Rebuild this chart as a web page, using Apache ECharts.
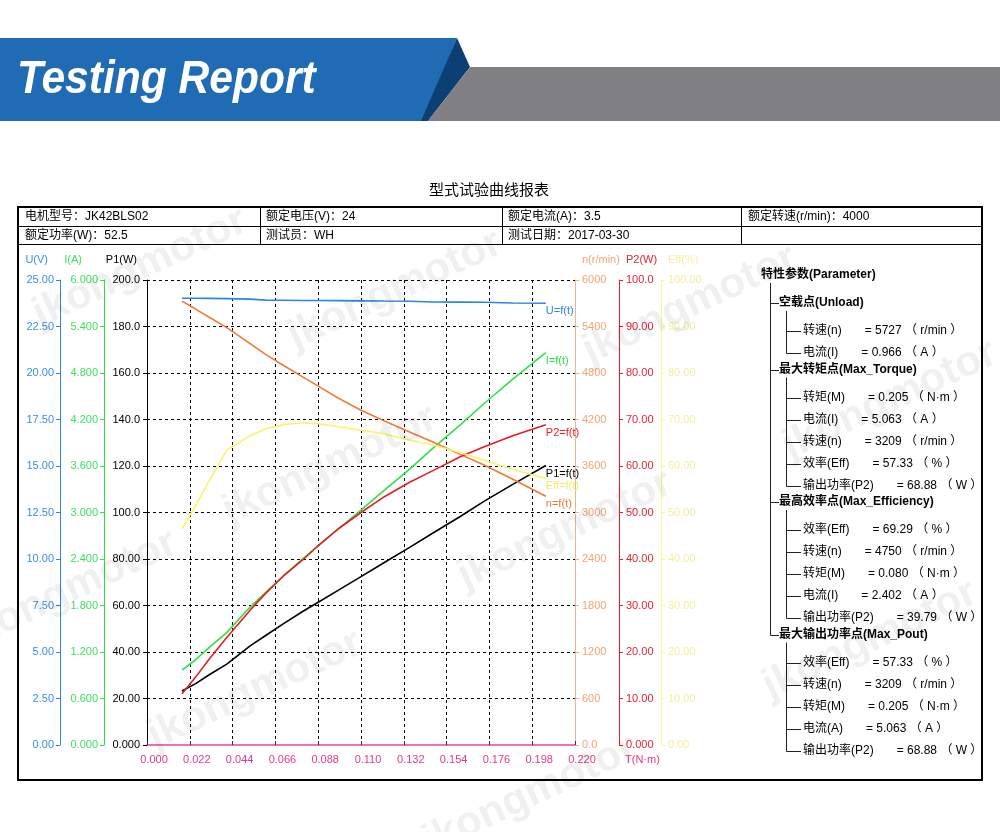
<!DOCTYPE html>
<html><head><meta charset="utf-8">
<script src="https://cdn.jsdelivr.net/npm/echarts@6/dist/echarts.min.js"></script>
<style>html,body{margin:0;padding:0;background:#fff}#c{width:1000px;height:832px}</style>
</head><body><div id="c"></div><script>
// ---------- data ----------
const T   = [0.018,0.025,0.032,0.041,0.053,0.061,0.070,0.080,0.088,0.098,0.110,0.122,0.135,0.147,0.161,0.173,0.188,0.205];
const U   = [24.02,24.02,24.01,24.00,23.97,23.92,23.91,23.90,23.90,23.89,23.88,23.87,23.86,23.82,23.81,23.80,23.76,23.75];
const I   = [0.966,1.10,1.26,1.45,1.78,1.97,2.18,2.402,2.57,2.78,3.03,3.29,3.56,3.83,4.13,4.40,4.72,5.063];
const P1  = [23.2,26.4,30.2,34.8,42.6,47.1,52.1,57.4,61.4,66.4,72.4,78.5,85.0,91.2,98.3,104.7,112.1,120.2];
const N   = [5727,5625,5520,5385,5180,5040,4900,4750,4630,4480,4320,4180,4040,3910,3750,3615,3430,3209];
const P2  = [11.0,14.6,18.5,23.1,29.0,32.6,36.3,39.79,42.9,46.4,50.0,53.4,56.5,59.0,62.0,64.1,66.5,68.88];
const EFF = [46.5,51.5,56.8,63.4,66.5,68.0,68.9,69.29,69.1,68.5,67.7,66.9,65.6,64.5,62.9,61.3,59.3,57.33];

const tLabels   = ['0.000','0.022','0.044','0.066','0.088','0.110','0.132','0.154','0.176','0.198','0.220'];
const uLabels   = ['0.00','2.50','5.00','7.50','10.00','12.50','15.00','17.50','20.00','22.50','25.00'];
const iLabels   = ['0.000','0.600','1.200','1.800','2.400','3.000','3.600','4.200','4.800','5.400','6.000'];
const p1Labels  = ['0.000','20.00','40.00','60.00','80.00','100.0','120.0','140.0','160.0','180.0','200.0'];
const nLabels   = ['0.0','600','1200','1800','2400','3000','3600','4200','4800','5400','6000'];
const p2Labels  = ['0.000','10.00','20.00','30.00','40.00','50.00','60.00','70.00','80.00','90.00','100.0'];
const effLabels = ['0.00','10.00','20.00','30.00','40.00','50.00','60.00','70.00','80.00','90.00','100.00'];

const infoRow1 = ['电机型号：JK42BLS02','额定电压(V)：24','额定电流(A)：3.5','额定转速(r/min)：4000'];
const infoRow2 = ['额定功率(W)：52.5','测试员：WH','测试日期：2017-03-30',''];

const paramHead = '特性参数(Parameter)';
const paramGroups = [
  {title:'空载点(Unload)', items:[['转速(n)','= 5727 （ r/min ）'],['电流(I)','= 0.966 （ A ）']]},
  {title:'最大转矩点(Max_Torque)', items:[['转矩(M)','= 0.205 （ N·m ）'],['电流(I)','= 5.063 （ A ）'],['转速(n)','= 3209 （ r/min ）'],['效率(Eff)','= 57.33 （ % ）'],['输出功率(P2)','= 68.88 （ W ）']]},
  {title:'最高效率点(Max_Efficiency)', items:[['效率(Eff)','= 69.29 （ % ）'],['转速(n)','= 4750 （ r/min ）'],['转矩(M)','= 0.080 （ N·m ）'],['电流(I)','= 2.402 （ A ）'],['输出功率(P2)','= 39.79 （ W ）']]},
  {title:'最大输出功率点(Max_Pout)', items:[['效率(Eff)','= 57.33 （ % ）'],['转速(n)','= 3209 （ r/min ）'],['转矩(M)','= 0.205 （ N·m ）'],['电流(A)','= 5.063 （ A ）'],['输出功率(P2)','= 68.88 （ W ）']]}
];

// ---------- styling ----------
const FONT = '"Liberation Sans", Arial, "Noto Sans CJK SC", sans-serif';
const C = {U:'#2a86e2', I:'#2ee04a', P1:'#000000', N:'#f07a3a', P2:'#e81c24', EFF:'#f8f46a',
  Ulab:'#3a8ee6', Ilab:'#3ee060', Nlab:'#f2a472', Nline:'#e8b690', P2lab:'#e02434', EFFlab:'#f4eea0', EFFline:'#fafa86',
  T:'#e8449c', Tlab:'#e0388e'};

const chart = echarts.init(document.getElementById('c'), null, {renderer:'canvas'});
const ctx = document.createElement('canvas').getContext('2d');
function tw(s, font){ ctx.font = font; return ctx.measureText(s).width; }

const g = [];
function line(x1,y1,x2,y2,stroke,w){ g.push({type:'line', silent:true, shape:{x1,y1,x2,y2}, style:{stroke:stroke||'#000', lineWidth:w||1}}); }
function txt(s,x,y,o){ o=o||{}; g.push({type:'text', silent:true, x, y, z:o.z||10, style:{text:s, font:(o.bold?'bold ':'')+(o.size||12)+'px '+FONT, fill:o.fill||'#000', align:o.align||'left', verticalAlign:'middle'}}); }

// banner
g.push({type:'polygon', silent:true, shape:{points:[[0,38],[457,38],[423,121],[0,121]]}, style:{fill:'#1f6cb4'}});
g.push({type:'polygon', silent:true, shape:{points:[[457,38],[470,67],[428,121],[421,121]]}, style:{fill:'#0c3f72'}});
g.push({type:'polygon', silent:true, shape:{points:[[470,67],[1000,67],[1000,121],[428,121]]}, style:{fill:'#807f84'}});
g.push({type:'text', silent:true, x:17, y:80, scaleX:0.925, style:{text:'Testing Report', x:0, y:0, font:'italic bold 46px '+FONT, fill:'#ffffff', align:'left', verticalAlign:'middle'}});

// title
txt('型式试验曲线报表', 489, 191, {size:15, align:'center'});

// frame & table
g.push({type:'rect', silent:true, shape:{x:18,y:207,width:964,height:573}, style:{fill:'none', stroke:'#000', lineWidth:2}});
line(18,226.5,982,226.5,'#000',1);
line(18,244.5,982,244.5,'#000',1);
[260.5,502.5,741.5].forEach(x=>line(x,207,x,244,'#000',1));
const colX = [25,266,508,748];
infoRow1.forEach((s,i)=>txt(s,colX[i],217));
infoRow2.forEach((s,i)=>{ if(s) txt(s,colX[i],236); });

// parameter tree
txt(paramHead, 761, 275, {bold:true});
let y = 303; const titleYs = [];
const itemFont = '12px '+FONT;
paramGroups.forEach(gr=>{
  titleYs.push(y);
  line(770.5, Math.round(y)+0.5, 779, Math.round(y)+0.5, '#222', 1);
  txt(gr.title, 779, y, {bold:true});
  let iy = y + 28, last = iy;
  gr.items.forEach(it=>{
    line(786.5, Math.round(iy)+0.5, 801, Math.round(iy)+0.5, '#222', 1);
    txt(it[0], 803, iy);
    txt(it[1], 803 + tw(it[0], itemFont) + 23, iy);
    last = iy; iy += 22;
  });
  line(786.5, y+8, 786.5, Math.round(last)+0.5, '#222', 1);
  y = last + 16.5;
});
line(770.5, 283, 770.5, Math.round(titleYs[titleYs.length-1])+0.5, '#222', 1);

// watermarks
[[140,268],[395,290],[690,305],[890,400],[330,465],[565,530],[70,590],[255,690],[530,795],[870,640]].forEach(p=>{
  g.push({type:'text', silent:true, x:p[0], y:p[1], rotation:25*Math.PI/180, z:100,
    style:{text:'jkongmotor', font:'bold 42px '+FONT, fill:'rgba(0,0,0,0.06)', align:'center', verticalAlign:'middle'}});
});

// ---------- axes ----------
function yAx(o){
  return {
    type:'value', position:o.pos, offset:o.off, min:0, max:o.max, interval:o.iv,
    name:o.name, nameLocation:'end', nameGap:15,
    nameTextStyle:{color:o.lab, fontSize:11, fontFamily:FONT, align:o.pos==='left'?'right':'left',
      padding:o.pos==='left'?[0,o.np,0,0]:[0,0,0,o.np]},
    axisLine:{show:true, onZero:false, lineStyle:{color:o.line, width:1}},
    axisTick:{show:true, length:4, lineStyle:{color:o.line}},
    axisLabel:{color:o.lab, fontSize:11, fontFamily:FONT, margin:o.m, showMinLabel:true, showMaxLabel:true,
      formatter:(v,i)=>o.labels[i]},
    splitLine:o.split?{show:true, showMinLine:false, lineStyle:{color:'#000', type:[3,3], width:1}}:{show:false}
  };
}

const option = {
  backgroundColor:'#ffffff',
  animation:false,
  textStyle:{fontFamily:FONT},
  grid:{left:147, right:425, top:280, bottom:87, containLabel:false},
  xAxis:{
    type:'value', min:0, max:0.22, interval:0.022,
    name:'T(N·m)', nameLocation:'end', nameGap:50,
    nameTextStyle:{color:C.Tlab, fontSize:11, fontFamily:FONT, align:'left', verticalAlign:'top', padding:[9,0,0,0]},
    axisLine:{show:true, onZero:false, lineStyle:{color:C.T, width:1.5}},
    axisTick:{show:true, inside:true, length:4, lineStyle:{color:'#333'}},
    axisLabel:{color:C.Tlab, fontSize:11, fontFamily:FONT, margin:9, padding:[0,0,0,14], showMinLabel:true, showMaxLabel:true,
      formatter:(v,i)=>tLabels[i]},
    splitLine:{show:true, showMinLine:false, showMaxLine:false, lineStyle:{color:'#000', type:[3,3], width:1}}
  },
  yAxis:[
    yAx({pos:'left', off:87, max:25, iv:2.5, name:'U(V)', lab:C.Ulab, line:C.U, labels:uLabels, m:6, np:12}),
    yAx({pos:'left', off:43, max:6, iv:0.6, name:'I(A)', lab:C.Ilab, line:C.I, labels:iLabels, m:6, np:22}),
    yAx({pos:'left', off:0, max:200, iv:20, name:'P1(W)', lab:'#000', line:'#000', labels:p1Labels, m:7, np:10, split:true}),
    yAx({pos:'right', off:0, max:6000, iv:600, name:'n(r/min)', lab:C.Nlab, line:C.Nline, labels:nLabels, m:7, np:7}),
    yAx({pos:'right', off:44, max:100, iv:10, name:'P2(W)', lab:C.P2lab, line:C.P2, labels:p2Labels, m:7, np:7}),
    yAx({pos:'right', off:86, max:100, iv:10, name:'Eff(%)', lab:C.EFFlab, line:C.EFFline, labels:effLabels, m:7, np:7})
  ],
  series:[
    ['U=f(t)', U, 0, C.U, C.U],
    ['I=f(t)', I, 1, C.I, C.I],
    ['P1=f(t)', P1, 2, C.P1, '#000'],
    ['n=f(t)', N, 3, C.N, C.N],
    ['P2=f(t)', P2, 4, C.P2, C.P2],
    ['Eff=f(t)', EFF, 5, C.EFF, '#f0ea70']
  ].map(s=>({
    type:'line', name:s[0], yAxisIndex:s[2], showSymbol:false, symbol:'none', smooth:false,
    data:T.map((t,i)=>[t, s[1][i]]),
    lineStyle:{color:s[3], width:1.6}, itemStyle:{color:s[3]},
    endLabel:{show:true, formatter:s[0], color:s[4], fontSize:11, fontFamily:FONT, distance:0, offset:[0,8]}
  })),
  graphic:g
};
chart.setOption(option);
</script></body></html>
